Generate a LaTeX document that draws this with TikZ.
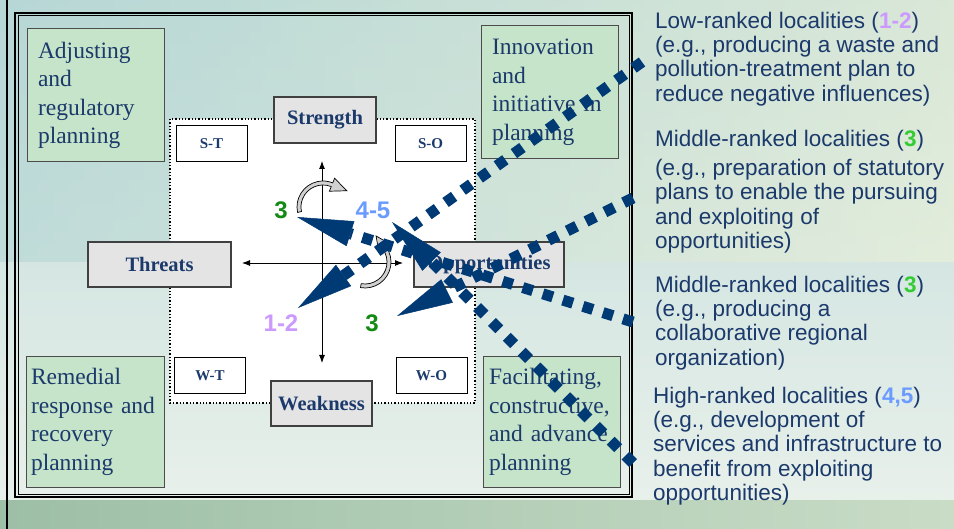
\documentclass[tikz,border=0pt]{standalone}
\usepackage{fontspec}
\setmainfont{Liberation Serif}
\setsansfont{Liberation Sans}
\usetikzlibrary{arrows.meta,calc}
\definecolor{navy}{HTML}{1B3A6B}
\definecolor{dotblue}{HTML}{003A75}
\definecolor{boxgreen}{HTML}{C6E4C9}
\definecolor{boxgray}{HTML}{E4E4E4}
\definecolor{numgreen}{HTML}{138A13}
\definecolor{txtgreen}{HTML}{33CC33}
\definecolor{numlav}{HTML}{CC99FF}
\definecolor{numblue}{HTML}{6B9BFF}
\definecolor{bgteal}{HTML}{AFD3D3}
\definecolor{bgpale}{HTML}{EEF2D6}
\definecolor{bglight}{HTML}{E8F0EA}
\definecolor{bgstripA}{HTML}{9DBFA6}
\definecolor{bgstripB}{HTML}{C9DCC6}
\begin{document}
\begin{tikzpicture}[x=1pt,y=-1pt,
  gbox/.style={draw=black!70, line width=1pt, fill=boxgreen, text=navy,
    font=\fontsize{23.5}{28.5}\selectfont, align=left, inner xsep=0pt, inner ysep=0pt},
  gybox/.style={draw=black!75, line width=1.2pt, fill=boxgray, text=navy,
    font=\bfseries\fontsize{20.5}{24}\selectfont, inner sep=0pt},
  wbox/.style={draw=black, line width=1pt, fill=white, text=navy,
    font=\bfseries\fontsize{15}{18}\selectfont, inner sep=0pt,
    minimum width=71pt, minimum height=36pt},
  numtxt/.style={font=\sffamily\bfseries\fontsize{24}{24}\selectfont, inner sep=0pt},
  rtext/.style={anchor=north west, inner sep=0pt, align=left, text=navy,
    font=\sffamily\fontsize{22.5}{24.4}\selectfont},
  dotline/.style={draw=dotblue, line width=11pt, dash pattern=on 10.5pt off 10.5pt,
    -{Triangle[length=56pt,width=26pt,line width=0.5pt]}},
  cband/.style={draw=black, line width=0.7pt, fill=black!18}
]
\useasboundingbox (0,0) rectangle (954,529);
% background
\shade[top color=bgteal!70!bglight, bottom color=bglight] (0,0) rectangle (954,500);
\shade[left color=bgteal, right color=bgpale, opacity=0.55] (0,0) rectangle (954,262);
\shade[left color=bgstripA, right color=bgstripB] (0,500) rectangle (954,529);
\draw[line width=2pt] (7,0) -- (7,529);
% frame
\draw[line width=1.2pt] (15,13) rectangle (632,497);
\draw[line width=1pt] (18,16) rectangle (629,494);
% central dotted area
\draw[dotted, line width=1.3pt, fill=white] (170,119) rectangle (475,403);
% corner boxes
\node[wbox] (st) at (211.5,144) {S-T};
\node[wbox] (so) at (430.5,144) {S-O};
\node[wbox] (wt) at (210,376) {W-T};
\node[wbox] (wo) at (431.5,376) {W-O};
% axes
\coordinate (axT) at (322,161);
\coordinate (axB) at (322,363);
\coordinate (axL) at (242,263);
\coordinate (axR) at (403,263);
\draw[line width=0.9pt, {Latex[length=8pt,width=6pt]}-{Latex[length=8pt,width=6pt]}] (axT) -- (axB);
\draw[line width=0.9pt, {Latex[length=8pt,width=6pt]}-{Latex[length=8pt,width=6pt]}] (axL) -- (axR);
% gray boxes
\node[gybox, minimum width=102pt, minimum height=46pt] (str) at (325,120) {Strength};
\node[gybox, minimum width=101pt, minimum height=45pt] (wea) at (321.5,403.5) {Weakness};
\node[gybox, minimum width=143pt, minimum height=45pt] (thr) at (159.5,264.5) {Threats};
\node[gybox, minimum width=150pt, minimum height=45pt] (opp) at (489,264.5) {Opportunities};
% curved arrows
\coordinate (c1) at (323,207);
\filldraw[cband] ($(c1)+(168:26)$) arc[start angle=168, end angle=292, radius=26]
  -- ($(c1)+(292:31)$) -- ($(c1)+(292:24)+(22:16)$) -- ($(c1)+(292:17)$)
  -- ($(c1)+(292:22)$) arc[start angle=292, end angle=168, radius=22] -- cycle;
\coordinate (c2) at (365,262);
\filldraw[cband] ($(c2)+(100:26)$) arc[start angle=100, end angle=-35, radius=26]
  -- ($(c2)+(-35:31)$) -- ($(c2)+(-35:24)+(-125:15)$) -- ($(c2)+(-35:17)$)
  -- ($(c2)+(-35:22)$) arc[start angle=-35, end angle=100, radius=22] -- cycle;
% numbers
\node[numtxt, text=numgreen] (n3a) at (281,210) {3};
\node[numtxt, text=numblue] (n45) at (373,210) {4-5};
\node[numtxt, text=numlav] (n12) at (281,323) {1-2};
\node[numtxt, text=numgreen] (n3b) at (372,323) {3};
% green boxes
\node[gbox, minimum width=137pt, minimum height=133pt, text width=115pt] (adj) at (95.5,95.5)
  {Adjusting\\and\\regulatory\\planning};
\node[gbox, minimum width=137pt, minimum height=133pt, text width=115pt] (inn) at (549.5,92.5)
  {Innovation\\and\\initiative in\\planning};
\node[gbox, minimum width=138pt, minimum height=130pt, text width=128pt] (rem) at (95,422)
  {Remedial\\response and\\recovery\\planning};
\node[gbox, minimum width=137pt, minimum height=130pt, text width=125pt] (fac) at (551.5,422)
  {Facilitating,\\constructive,\\and advance\\planning};
% right texts
\node[rtext] (r1) at (655,11.5)
  {Low-ranked localities (\textbf{\color{numlav}1-2})\\(e.g., producing a waste and\\pollution-treatment plan to\\reduce negative influences)};
\node[rtext] (r2) at (655,129.5)
  {Middle-ranked localities (\textbf{\color{txtgreen}3})\\[5pt](e.g., preparation of statutory\\plans to enable the pursuing\\and exploiting of\\opportunities)};
\node[rtext] (r3) at (655,275.5)
  {Middle-ranked localities (\textbf{\color{txtgreen}3})\\(e.g., producing a\\collaborative regional\\organization)};
\node[rtext] (r4) at (653,386.5)
  {High-ranked localities (\textbf{\color{numblue}4,5})\\(e.g., development of\\services and infrastructure to\\benefit from exploiting\\opportunities)};
% dotted connectors
\coordinate (sA) at (642,62);
\coordinate (sB) at (633,198);
\coordinate (sC) at (633,322);
\coordinate (sD) at (633,463);
\coordinate (tA) at (298,308);
\coordinate (tB) at (397,316);
\coordinate (tC) at (297,217);
\coordinate (tD) at (392,222);
\draw[dotline] (sA) -- (tA);
\draw[dotline] (sB) -- (tB);
\draw[dotline] (sC) -- (tC);
\draw[dotline] (sD) -- (tD);
\end{tikzpicture}
\end{document}
